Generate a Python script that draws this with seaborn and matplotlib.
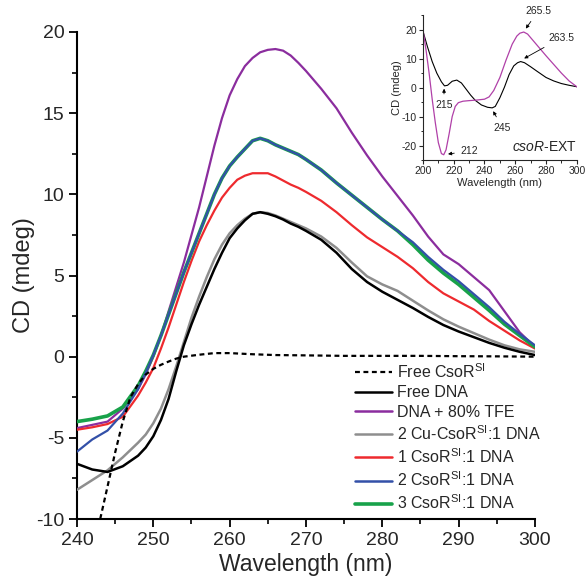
import numpy as np
import pandas as pd
import matplotlib
matplotlib.use("Agg")
import matplotlib.pyplot as plt
import seaborn as sns
from matplotlib.ticker import MultipleLocator
from matplotlib.lines import Line2D

# ---------------- data (main panel) ----------------
wl = [240, 242, 244, 246, 248, 249, 250, 251, 252, 253, 254, 255, 256, 257, 258, 259, 260,
      261, 262, 263, 264, 265, 266, 267, 268, 269, 270, 272, 274, 276, 278, 280, 282, 284,
      286, 288, 290, 292, 294, 296, 298, 300]
free_dna = [-6.6, -6.95, -7.1, -6.75, -6.1, -5.6, -4.9, -3.9, -2.6, -0.9, 0.7, 2.0, 3.2, 4.3,
            5.4, 6.4, 7.3, 7.9, 8.4, 8.8, 8.9, 8.8, 8.65, 8.45, 8.2, 8.0, 7.75, 7.2, 6.4, 5.4,
            4.6, 4.0, 3.5, 3.0, 2.45, 1.95, 1.55, 1.2, 0.85, 0.55, 0.3, 0.1]
cu_2 = [-8.2, -7.6, -7.0, -6.2, -5.3, -4.8, -4.1, -3.2, -2.0, -0.6, 0.9, 2.4, 3.7, 4.9,
        6.0, 6.9, 7.6, 8.1, 8.5, 8.8, 8.9, 8.85, 8.7, 8.5, 8.3, 8.1, 7.9, 7.4, 6.7, 5.8,
        4.95, 4.45, 4.05, 3.45, 2.85, 2.3, 1.85, 1.45, 1.05, 0.7, 0.45, 0.3]
csor_1 = [-4.5, -4.35, -4.15, -3.7, -2.4, -1.6, -0.7, 0.5, 1.8, 3.2, 4.6, 5.9, 7.1, 8.1,
          9.0, 9.8, 10.4, 10.9, 11.15, 11.3, 11.3, 11.3, 11.1, 10.85, 10.6, 10.4, 10.15, 9.6,
          8.9, 8.1, 7.35, 6.75, 6.15, 5.45, 4.6, 3.9, 3.4, 2.9, 2.2, 1.6, 1.0, 0.5]
dna_tfe = [-4.4, -4.2, -4.0, -3.2, -2.0, -1.1, 0.0, 1.3, 2.8, 4.3, 5.8, 7.5, 9.2, 11.1,
           13.0, 14.7, 16.1, 17.1, 17.9, 18.4, 18.75, 18.9, 18.95, 18.85, 18.55, 18.1, 17.6,
           16.5, 15.3, 13.8, 12.4, 11.1, 9.9, 8.7, 7.4, 6.3, 5.7, 4.9, 4.1, 2.8, 1.5, 0.6]
csor_3 = [-4.0, -3.85, -3.65, -3.1, -1.8, -0.9, 0.1, 1.3, 2.6, 3.9, 5.2, 6.4, 7.6, 8.8,
          10.0, 11.0, 11.75, 12.3, 12.8, 13.3, 13.45, 13.3, 13.05, 12.85, 12.65, 12.45, 12.15,
          11.5, 10.7, 9.95, 9.2, 8.45, 7.75, 6.9, 5.95, 5.15, 4.45, 3.65, 2.85, 2.0, 1.3, 0.6]
csor_2 = [-5.85, -5.1, -4.55, -3.5, -2.0, -1.0, 0.1, 1.3, 2.6, 3.9, 5.2, 6.4, 7.6, 8.8,
          10.0, 11.0, 11.75, 12.3, 12.8, 13.3, 13.45, 13.3, 13.05, 12.85, 12.65, 12.45, 12.15,
          11.5, 10.7, 9.95, 9.2, 8.45, 7.75, 7.05, 6.15, 5.35, 4.65, 3.85, 3.05, 2.15, 1.4, 0.7]
wl_free = [242.8, 244, 245, 246, 247, 248, 249, 250, 251, 252, 253, 254, 256, 258, 260, 263,
           266, 270, 275, 280, 285, 290, 295, 300]
free_csor = [-10.5, -8.0, -5.9, -4.0, -2.5, -1.7, -1.1, -0.75, -0.5, -0.3, -0.12, 0.0, 0.12,
             0.22, 0.22, 0.15, 0.1, 0.08, 0.05, 0.05, 0.05, 0.03, 0.02, 0.0]

labels = ["Free CsoR$^{\\mathrm{SI}}$", "Free DNA", "DNA + 80% TFE",
          "2 Cu-CsoR$^{\\mathrm{SI}}$:1 DNA", "1 CsoR$^{\\mathrm{SI}}$:1 DNA",
          "2 CsoR$^{\\mathrm{SI}}$:1 DNA", "3 CsoR$^{\\mathrm{SI}}$:1 DNA"]
colors = ["black", "black", "#8B2D9E", "#8E8E8E", "#EE2A2E", "#3350A8", "#18A24A"]

# ---------------- data (inset) ----------------
wl_in_dna = [200, 203, 206, 209, 212, 214, 216, 219, 222, 225, 228, 231, 234, 238, 242, 245, 247,
             250, 253, 256, 259, 261.5, 263.5, 266, 270, 274, 280, 285, 290, 295, 300]
in_dna = [19.5, 14, 9, 5, 2, 0.6, 0.8, 2.2, 2.6, 1.6, -0.5, -2.6, -4.4, -6.0, -6.8, -7.0, -6.5,
          -3.5, 0.2, 4.5, 7.5, 8.6, 9.0, 8.6, 7.2, 5.7, 3.5, 2.3, 1.4, 0.8, 0.3]
wl_in_tfe = [200, 202, 204, 206, 208, 210, 212, 213.5, 215, 217, 219, 221, 223, 226, 230, 235, 240,
             243, 246, 250, 254, 258, 261, 263, 265.5, 268, 272, 276, 280, 285, 290, 295, 300]
in_tfe = [20, 13, 5, -4, -12, -19, -22.8, -23.2, -21.5, -16, -10, -6.5, -5.2, -4.7, -4.5, -4.3, -4.0,
          -3.2, -1.0, 3.5, 9.5, 15.0, 17.8, 18.8, 19.2, 18.5, 16.0, 13.5, 11.0, 8.0, 5.0, 2.3, 0.3]

# ---------------- style ----------------
sns.set_style("ticks")
plt.rcParams["font.family"] = ["Liberation Sans", "DejaVu Sans"]
plt.rcParams["mathtext.fontset"] = "custom"
plt.rcParams["mathtext.rm"] = "Liberation Sans"
plt.rcParams["mathtext.it"] = "Liberation Sans:italic"
plt.rcParams["axes.unicode_minus"] = False

fig = plt.figure(figsize=(5.85, 5.86), dpi=100)
ax = fig.add_axes([0.1316, 0.1143, 0.7829, 0.8311])

series = [free_dna, dna_tfe, cu_2, csor_1, csor_3, csor_2]
sidx = [1, 2, 3, 4, 6, 5]
z = {1: 5, 2: 3, 3: 4, 4: 3, 5: 3.5, 6: 3}
lw = {1: 1.8, 2: 1.6, 3: 1.8, 4: 1.6, 5: 1.6, 6: 2.6}

sns.lineplot(x=wl_free, y=free_csor, ax=ax, color="black", lw=1.6,
             linestyle=(0, (2.2, 1.6)), zorder=6, estimator=None, sort=False)
for vals, i in zip(series, sidx):
    sns.lineplot(x=wl, y=vals, ax=ax, color=colors[i], lw=lw[i], zorder=z[i],
                 estimator=None, sort=False)

ax.set_xlim(240, 300)
ax.set_ylim(-10, 20)
ax.xaxis.set_major_locator(MultipleLocator(10))
ax.xaxis.set_minor_locator(MultipleLocator(5))
ax.yaxis.set_major_locator(MultipleLocator(5))
ax.yaxis.set_minor_locator(MultipleLocator(2.5))
ax.tick_params(which="major", direction="out", length=6, width=1.3, labelsize=14, pad=3, color="black")
ax.tick_params(which="minor", direction="out", length=3.5, width=1.2, color="black")
for s in ["top", "right"]:
    ax.spines[s].set_visible(False)
for s in ["left", "bottom"]:
    ax.spines[s].set_linewidth(1.5)
    ax.spines[s].set_color("black")
ax.set_xlabel("Wavelength (nm)", fontsize=16.5, labelpad=3)
ax.set_ylabel("CD (mdeg)", fontsize=17, labelpad=1)

handles = [Line2D([], [], color="black", lw=1.6, linestyle=(0, (2.2, 1.6)))]
for i in range(1, 7):
    handles.append(Line2D([], [], color=colors[i], lw=2.6 if i == 6 else 1.8))
leg = ax.legend(handles, labels, loc="upper left", bbox_to_anchor=(355 / 585, 1 - 362 / 586),
                bbox_transform=fig.transFigure, frameon=False, fontsize=11.5,
                handlelength=2.3, handletextpad=0.35, labelspacing=0.28,
                borderpad=0, borderaxespad=0)

# ---------------- inset ----------------
axi = fig.add_axes([0.723, 0.727, 0.263, 0.247])
sns.lineplot(x=wl_in_dna, y=in_dna, ax=axi, color="black", lw=0.8, estimator=None, sort=False)
sns.lineplot(x=wl_in_tfe, y=in_tfe, ax=axi, color="#B040A8", lw=0.9, estimator=None, sort=False)
axi.set_xlim(200, 300)
axi.set_ylim(-25, 25)
axi.xaxis.set_major_locator(MultipleLocator(20))
axi.xaxis.set_minor_locator(MultipleLocator(10))
axi.yaxis.set_major_locator(MultipleLocator(10))
axi.yaxis.set_minor_locator(MultipleLocator(5))
axi.tick_params(which="major", direction="out", length=3, width=0.8, labelsize=7.5, pad=1.5)
axi.tick_params(which="minor", direction="out", length=1.8, width=0.7)
for s in ["top", "right"]:
    axi.spines[s].set_visible(False)
for s in ["left", "bottom"]:
    axi.spines[s].set_linewidth(0.8)
axi.set_facecolor("none")
axi.set_xlabel("Wavelength (nm)", fontsize=8, labelpad=1)
axi.set_ylabel("CD (mdeg)", fontsize=8, labelpad=0)

ann = dict(arrowprops=dict(arrowstyle="-|>", color="black", lw=0.6, mutation_scale=5),
           fontsize=7.5, ha="center", va="center")
axi.annotate("265.5", xy=(265.8, 19.6), xytext=(275, 26.5), annotation_clip=False, **ann)
axi.annotate("263.5", xy=(264.2, 9.6), xytext=(290, 17.2), annotation_clip=False, **ann)
axi.annotate("215", xy=(213.8, 0.6), xytext=(213.5, -6.0), **ann)
axi.annotate("245", xy=(244.8, -7.3), xytext=(251.5, -13.8), **ann)
axi.annotate("212", xy=(214.5, -23.1), xytext=(230, -21.9), **ann)
axi.text(300, -20.5, "$\\mathit{csoR}$-EXT", fontsize=10, ha="right", va="center")

fig.savefig("out.png", dpi=100)
